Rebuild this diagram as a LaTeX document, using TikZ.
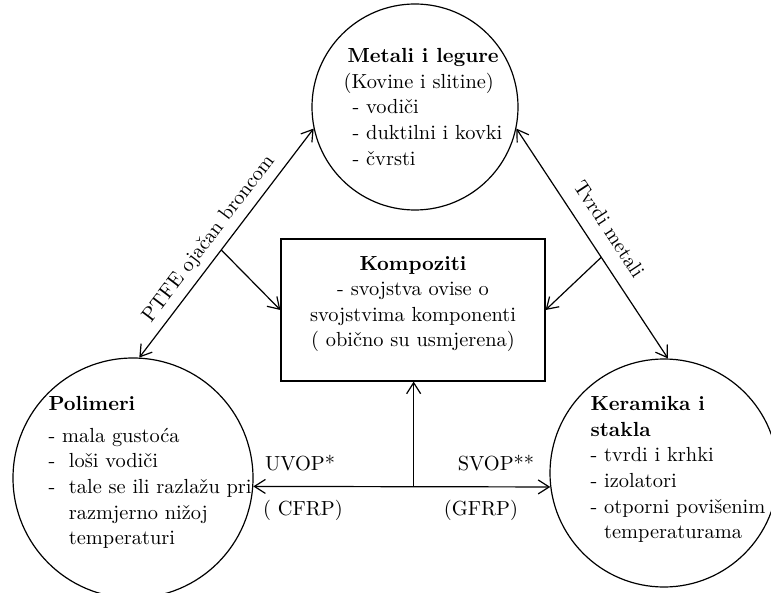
\documentclass[tikz,border=0pt]{standalone}
\usepackage{tikz}
\usetikzlibrary{arrows.meta}

\begin{document}
\begin{tikzpicture}[x=0.5pt,y=-0.5pt,line width=0.6pt,
  >={Straight Barb[length=5.5pt,width=7pt]},
  every node/.style={font=\fontsize{10.2}{12.8}\selectfont},
  krug/.style={draw,circle,inner sep=0pt},
  opis/.style={align=left,anchor=north west,inner sep=0pt}]

\useasboundingbox (0,0) rectangle (771,593);

% tri skupine materijala
\node[krug,minimum size=103pt] (met) at (415,107) {};
\node[krug,minimum size=120pt] (pol) at (133,478) {};
\node[krug,minimum size=114pt] (ker) at (664,473) {};

\node[opis] (metT) at (343,48) {\hspace{2pt}\textbf{Metali i legure}\\(Kovine i slitine)\\
  \hspace{4.5pt}- vodiči\\\hspace{4.5pt}- duktilni i kovki\\\hspace{4.5pt}- čvrsti};
\node[opis] (polT) at (48,396) {\textbf{Polimeri}\\[3pt]- mala gustoća\\-\ \ loši vodiči\\
  -\ \ tale se ili razlažu pri\\\hphantom{-\ \ }razmjerno nižoj\\\hphantom{-\ \ }temperaturi};
\node[opis] (kerT) at (590,396) {\textbf{Keramika i}\\\textbf{stakla}\\- tvrdi i krhki\\
  - izolatori\\- otporni povišenim\\\hphantom{-\ }temperaturama};

% kompoziti u sredini
\node[draw,minimum width=132pt,minimum height=71pt] (komp) at (413,310) {};
\node[align=center] (kompT) at (413,304)
  {\textbf{Kompoziti}\\- svojstva ovise o\\svojstvima komponenti\\( obično su usmjerena)};

% veze
\draw[<->] (pol.87) -- node[sloped,above,pos=0.475] (ptfe) {PTFE ojačan broncom}
  coordinate[pos=0.47] (lgr) (met.192);
\draw[->] (lgr) -- (komp.west);
\draw[<->] (met.-12) -- node[sloped,above=4pt,pos=0.49] (tvrdi) {Tvrdi metali}
  coordinate[pos=0.56] (dgr) (ker.88);
\draw[->] (dgr) -- (komp.east);
\draw[<->] (pol.-4) -- coordinate[pos=0.54] (sr) (ker.187);
\draw[->] (sr) -- (sr |- komp.south);

\node (uvop) at (300,463) {UVOP*};
\node (cfrp) at (303,510) {( CFRP)};
\node (svop) at (496,463) {SVOP**};
\node (gfrp) at (481,510) {(GFRP)};
\end{tikzpicture}
\end{document}
